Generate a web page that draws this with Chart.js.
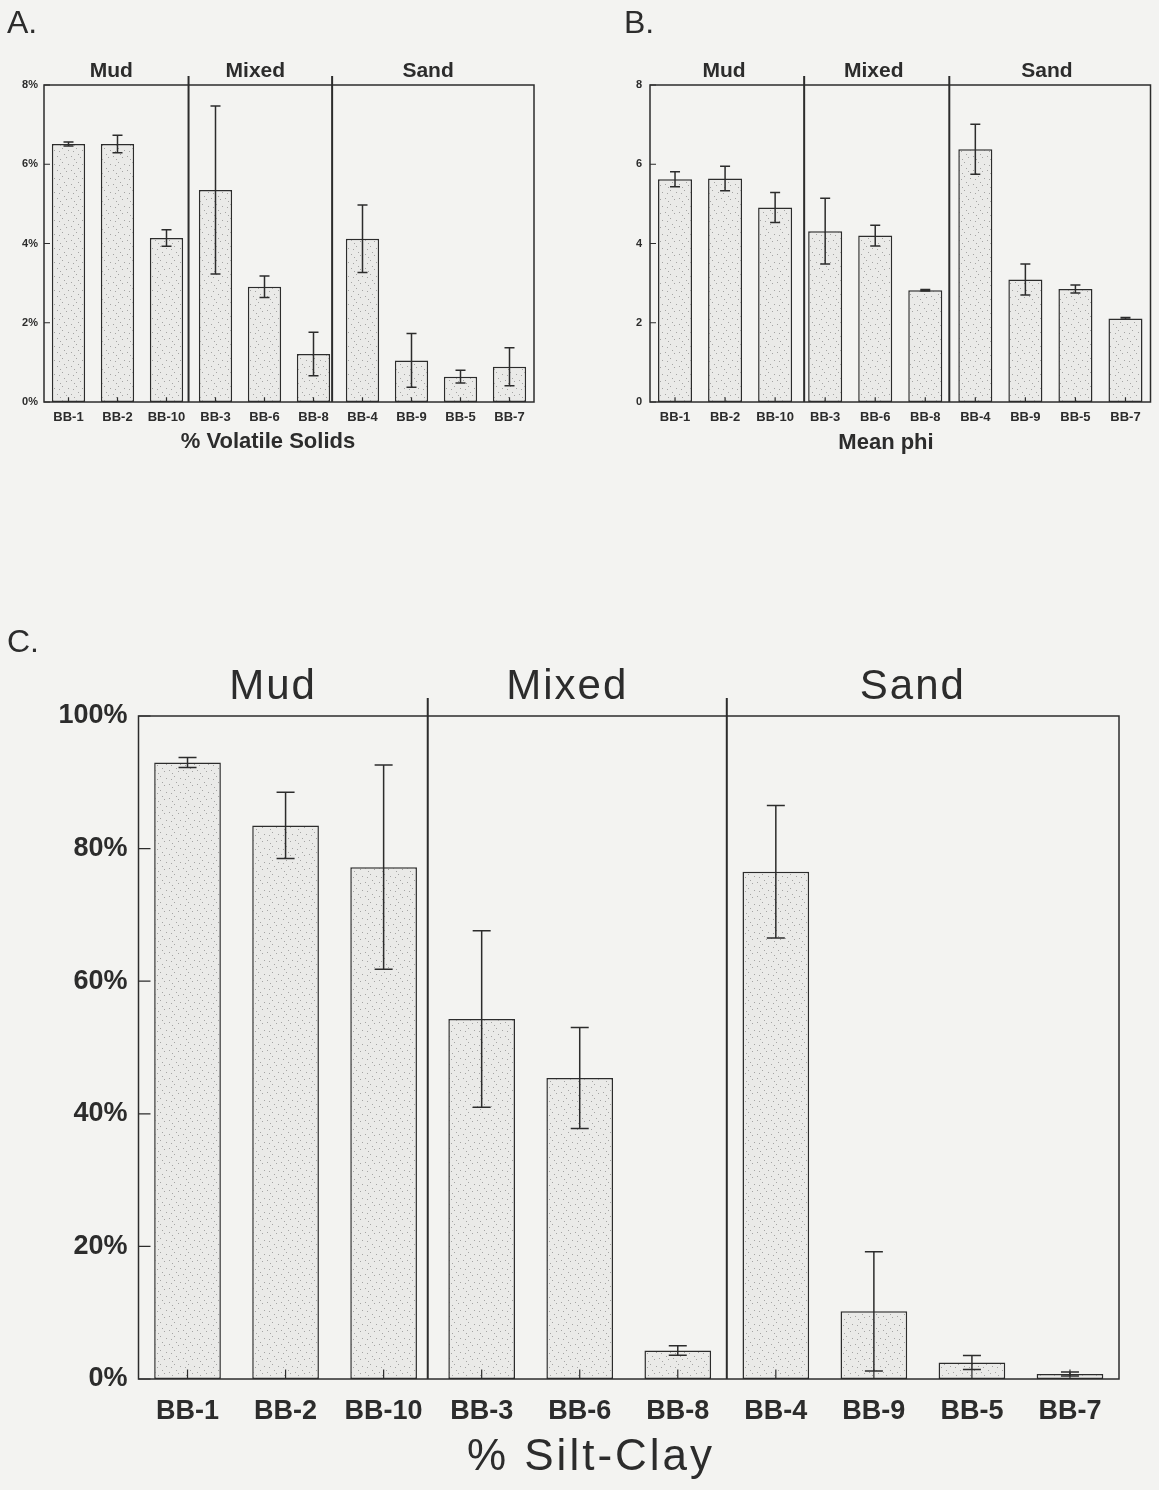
<!DOCTYPE html>
<html>
<head>
<meta charset="utf-8">
<title>Sediment characteristics by station</title>
<script src="https://cdn.jsdelivr.net/npm/chart.js@4.4.1/dist/chart.umd.min.js"></script>
<style>
  body { margin: 0; background: #f3f3f1; }
  #page { position: relative; width: 1159px; height: 1490px; overflow: hidden; }
  .panel { position: absolute; }
</style>
</head>
<body>
<div id="page">
  <div class="panel" style="left:0;top:0"><canvas id="chartA" width="545" height="470"></canvas></div>
  <div class="panel" style="left:580px;top:0"><canvas id="chartB" width="579" height="470"></canvas></div>
  <div class="panel" style="left:0;top:600px"><canvas id="chartC" width="1159" height="890"></canvas></div>
</div>
<script>
// ---------- stations & habitat groups ----------
const stations = ["BB-1", "BB-2", "BB-10", "BB-3", "BB-6", "BB-8", "BB-4", "BB-9", "BB-5", "BB-7"];
const groupNames = ["Mud", "Mixed", "Sand"];

// ---------- A. % volatile solids ----------
const volatileMean = [6.51, 6.51, 4.14, 5.35, 2.91, 1.21, 4.12, 1.05, 0.64, 0.89];
const volatileErr = [0.05, 0.22, 0.21, 2.12, 0.27, 0.55, 0.85, 0.68, 0.16, 0.48];
const volatileTicks = [0, 2, 4, 6, 8];

// ---------- B. mean phi ----------
const phiMean = [5.62, 5.64, 4.91, 4.31, 4.20, 2.82, 6.38, 3.09, 2.85, 2.11];
const phiErr = [0.19, 0.31, 0.38, 0.83, 0.26, 0.02, 0.63, 0.39, 0.10, 0.02];
const phiTicks = [0, 2, 4, 6, 8];

// ---------- C. % silt-clay ----------
const siltMean = [93.0, 83.5, 77.2, 54.3, 45.4, 4.3, 76.5, 10.2, 2.5, 0.75];
const siltErr = [0.75, 5.0, 15.4, 13.3, 7.6, 0.7, 10.0, 9.0, 1.05, 0.3];
const siltTicks = [0, 20, 40, 60, 80, 100];

const FONT = '"Liberation Sans", Arial, Helvetica, sans-serif';
const INK = "#2c2c2c";

// light stippled fill for the bars
function stipple() {
  const c = document.createElement("canvas");
  c.width = 14; c.height = 14;
  const g = c.getContext("2d");
  g.fillStyle = "#eaeae8";
  g.fillRect(0, 0, 14, 14);
  g.fillStyle = "rgba(80,80,80,0.45)";
  [[1, 2], [6, 8], [10, 3], [3, 11], [12, 10], [8, 0], [4, 5]].forEach(([x, y]) => g.fillRect(x, y, 1, 1));
  return g.createPattern(c, "repeat");
}

// ---------- frame, error bars, group dividers and labels ----------
const panelDecor = {
  id: "panelDecor",
  afterDatasetsDraw(chart, args, o) {
    const { ctx, chartArea: a, scales: { x, y } } = chart;
    const ds = chart.data.datasets[0];
    ctx.save();
    ctx.strokeStyle = INK;
    ctx.lineCap = "butt";

    // error bars
    ctx.lineWidth = o.errWidth;
    ds.data.forEach((v, i) => {
      const e = o.errors[i];
      const px = x.getPixelForValue(i);
      const top = y.getPixelForValue(v + e);
      const bot = y.getPixelForValue(Math.max(0, v - e));
      ctx.beginPath();
      ctx.moveTo(px, top); ctx.lineTo(px, bot);
      ctx.moveTo(px - o.cap, top); ctx.lineTo(px + o.cap, top);
      ctx.moveTo(px - o.cap, bot); ctx.lineTo(px + o.cap, bot);
      ctx.stroke();
    });

    // plot frame
    ctx.lineWidth = o.frameWidth;
    ctx.strokeRect(a.left, a.top, a.right - a.left, a.bottom - a.top);

    // inward tick marks
    ctx.lineWidth = 1.2;
    ctx.beginPath();
    y.ticks.forEach(t => {
      const py = y.getPixelForValue(t.value);
      ctx.moveTo(a.left, py); ctx.lineTo(a.left + o.tickIn, py);
    });
    stations.forEach((s, i) => {
      const px = x.getPixelForValue(i);
      ctx.moveTo(px, a.bottom); ctx.lineTo(px, a.bottom - o.tickIn * 0.8);
    });
    ctx.stroke();

    // group dividers
    ctx.lineWidth = o.dividerWidth;
    ctx.beginPath();
    o.dividers.forEach(d => {
      const px = x.getPixelForValue(d);
      ctx.moveTo(px, a.top - o.dividerRise); ctx.lineTo(px, a.bottom);
    });
    ctx.stroke();

    // group names centred over their sections
    const edges = [a.left, ...o.dividers.map(d => x.getPixelForValue(d)), a.right];
    ctx.fillStyle = INK;
    ctx.textAlign = "center";
    ctx.textBaseline = "alphabetic";
    ctx.font = o.groupFont;
    ctx.letterSpacing = o.groupSpacing || "0px";
    groupNames.forEach((g, i) => {
      ctx.fillText(g, (edges[i] + edges[i + 1]) / 2 + o.groupShift, o.groupY);
    });

    // axis caption
    ctx.font = o.captionFont;
    ctx.letterSpacing = o.captionSpacing || "0px";
    ctx.fillText(o.caption, o.captionX, o.captionY);

    // panel letter
    ctx.letterSpacing = "0px";
    ctx.textAlign = "left";
    ctx.font = o.letterFont;
    ctx.fillText(o.letter, o.letterX, o.letterY);
    ctx.restore();
  }
};

function makePanel(id, values, ticks, fmt, layout, decor) {
  new Chart(document.getElementById(id), {
    type: "bar",
    data: {
      labels: stations,
      datasets: [{
        data: values,
        backgroundColor: stipple(),
        borderColor: INK,
        borderWidth: layout.barBorder,
        borderSkipped: false,
        barPercentage: 0.68,
        categoryPercentage: 1.0
      }]
    },
    options: {
      responsive: false,
      animation: false,
      layout: { padding: { top: layout.top, right: layout.right, left: 0, bottom: 0 } },
      plugins: {
        legend: { display: false },
        tooltip: { enabled: false },
        panelDecor: decor
      },
      scales: {
        x: {
          grid: { display: false, drawTicks: false },
          border: { display: false },
          ticks: {
            color: INK,
            padding: layout.xPad,
            maxRotation: 0,
            autoSkip: false,
            font: { family: FONT, size: layout.xFont, weight: "bold" }
          },
          afterFit: s => { s.height = layout.xHeight; }
        },
        y: {
          min: ticks[0],
          max: ticks[ticks.length - 1],
          grid: { display: false, drawTicks: false },
          border: { display: false },
          ticks: {
            color: INK,
            padding: layout.yPad,
            callback: v => v + fmt,
            font: { family: FONT, size: layout.yFont, weight: "bold" }
          },
          afterBuildTicks: s => { s.ticks = ticks.map(v => ({ value: v })); },
          afterFit: s => { s.width = layout.yWidth; }
        }
      }
    },
    plugins: [panelDecor]
  });
}

// A. % Volatile Solids
makePanel("chartA", volatileMean, volatileTicks, "%",
  { top: 85, right: 11, yWidth: 44, xHeight: 68, xPad: 8, yPad: 6, xFont: 13, yFont: 11, barBorder: 1.5 },
  {
    errors: volatileErr, errWidth: 1.5, cap: 5, frameWidth: 1.5, tickIn: 6,
    dividers: [2.45, 5.38], dividerWidth: 2, dividerRise: 9,
    groupFont: "bold 21px " + FONT, groupY: 77, groupShift: -5,
    caption: "% Volatile Solids", captionFont: "bold 22px " + FONT, captionX: 268, captionY: 448,
    letter: "A.", letterFont: "32px " + FONT, letterX: 7, letterY: 33
  });

// B. Mean phi
makePanel("chartB", phiMean, phiTicks, "",
  { top: 85, right: 8.5, yWidth: 70, xHeight: 68, xPad: 8, yPad: 8, xFont: 13, yFont: 11, barBorder: 1.5 },
  {
    errors: phiErr, errWidth: 1.5, cap: 5, frameWidth: 1.5, tickIn: 6,
    dividers: [2.58, 5.48], dividerWidth: 2, dividerRise: 9,
    groupFont: "bold 21px " + FONT, groupY: 77, groupShift: -3,
    caption: "Mean phi", captionFont: "bold 22px " + FONT, captionX: 306, captionY: 449,
    letter: "B.", letterFont: "32px " + FONT, letterX: 44, letterY: 33
  });

// C. % Silt-Clay
makePanel("chartC", siltMean, siltTicks, "%",
  { top: 116, right: 40, yWidth: 138.5, xHeight: 111, xPad: 16, yPad: 11, xFont: 27, yFont: 27, barBorder: 1.5 },
  {
    errors: siltErr, errWidth: 1.5, cap: 9, frameWidth: 1.5, tickIn: 12,
    dividers: [2.45, 5.5], dividerWidth: 2, dividerRise: 18,
    groupFont: "42px " + FONT, groupSpacing: "2px", groupY: 99, groupShift: -10,
    caption: "% Silt-Clay", captionFont: "44px " + FONT, captionSpacing: "3px", captionX: 591, captionY: 870,
    letter: "C.", letterFont: "32px " + FONT, letterX: 7, letterY: 52
  });
</script>
</body>
</html>
